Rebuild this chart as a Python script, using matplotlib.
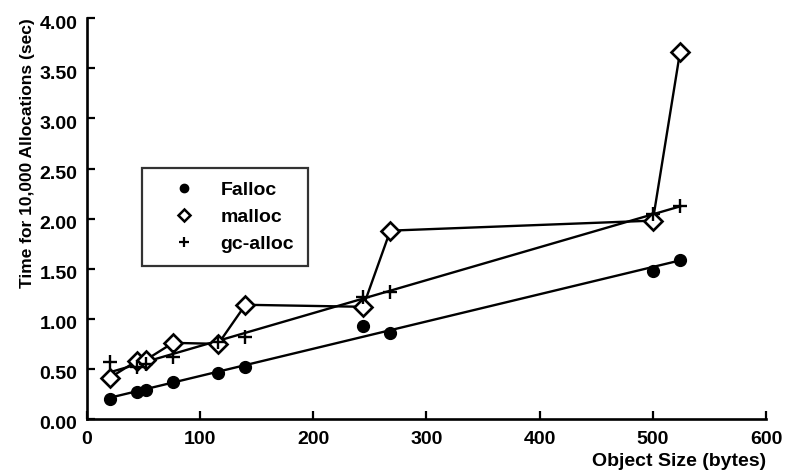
import numpy as np
import matplotlib
matplotlib.use("Agg")
import matplotlib.pyplot as plt
from matplotlib.lines import Line2D
from matplotlib.transforms import ScaledTranslation

plt.rcParams['font.family'] = ['Liberation Sans', 'DejaVu Sans']
plt.rcParams['font.weight'] = 'bold'
plt.rcParams['axes.labelweight'] = 'bold'

sizes = [20, 44, 52, 76, 116, 140, 244, 268, 500, 524]
falloc = [0.20, 0.27, 0.29, 0.37, 0.46, 0.52, 0.93, 0.86, 1.48, 1.59]
malloc = [0.41, 0.58, 0.59, 0.76, 0.75, 1.14, 1.12, 1.88, 1.98, 3.66]
gc_alloc = [0.57, 0.52, 0.55, 0.62, 0.77, 0.82, 1.22, 1.27, 2.05, 2.13]

xticks = [0, 100, 200, 300, 400, 500, 600]
yticks = [0.0, 0.5, 1.0, 1.5, 2.0, 2.5, 3.0, 3.5, 4.0]

FS = 14

fig = plt.figure(figsize=(7.85, 4.72), dpi=100)
ax = fig.add_axes([0.1108, 0.1123, 0.865, 0.849])

x = np.array(sizes, dtype=float)
xs = np.array([x.min(), x.max()])

# fitted straight lines for Falloc and gc-alloc
pf = np.polyfit(x, falloc, 1)
pg = np.polyfit(x, gc_alloc, 1)
ax.plot(xs, np.polyval(pf, xs), color='black', lw=1.7, zorder=2)
ax.plot(xs, np.polyval(pg, xs), color='black', lw=1.7, zorder=2)
ax.plot(sizes, malloc, color='black', lw=1.7, zorder=2)

ax.plot(sizes, falloc, 'o', color='black', ms=8.5, linestyle='none', zorder=3)
ax.plot(sizes, malloc, 'D', color='black', mfc='white', mew=1.9, ms=9.5,
        linestyle='none', zorder=3)
ax.plot(sizes, gc_alloc, '+', color='black', ms=10, mew=1.7, linestyle='none', zorder=4)

ax.set_xlim(0, 600)
ax.set_ylim(0, 4.0)
ax.set_xticks(xticks)
ax.set_yticks(yticks)
ax.set_yticklabels([f"{v:.2f}" for v in yticks])
ax.set_xticklabels([str(v) for v in xticks])

for s in ['top', 'right']:
    ax.spines[s].set_visible(False)
for s in ['left', 'bottom']:
    ax.spines[s].set_linewidth(1.9)
ax.tick_params(direction='in', length=6, width=1.6, labelsize=FS)
ax.tick_params(axis='x', pad=9)
ax.tick_params(axis='y', pad=7)
off = ScaledTranslation(0, -4 / 100, fig.dpi_scale_trans)
for lab in ax.get_yticklabels():
    lab.set_transform(lab.get_transform() + off)

ax.set_xlabel('Object Size (bytes)', fontsize=FS, loc='right', labelpad=3)
ax.set_ylabel('Time for 10,000 Allocations (sec)', fontsize=12.5, loc='top', labelpad=3)

handles = [
    Line2D([], [], marker='o', color='black', linestyle='none', ms=6),
    Line2D([], [], marker='D', color='black', mfc='white', mew=1.8, ms=6.5, linestyle='none'),
    Line2D([], [], marker='+', color='black', mew=1.6, ms=7, linestyle='none'),
]
leg = ax.legend(handles, ['Falloc', 'malloc', 'gc-alloc'], loc='upper left',
                bbox_to_anchor=(0.0806, 0.627), fontsize=FS,
                frameon=True, fancybox=False, edgecolor='black', handlelength=2.9,
                borderpad=0.7, labelspacing=0.48, handletextpad=0.45, borderaxespad=0)
leg.get_frame().set_linewidth(1.6)

fig.savefig('out.png', dpi=100)
